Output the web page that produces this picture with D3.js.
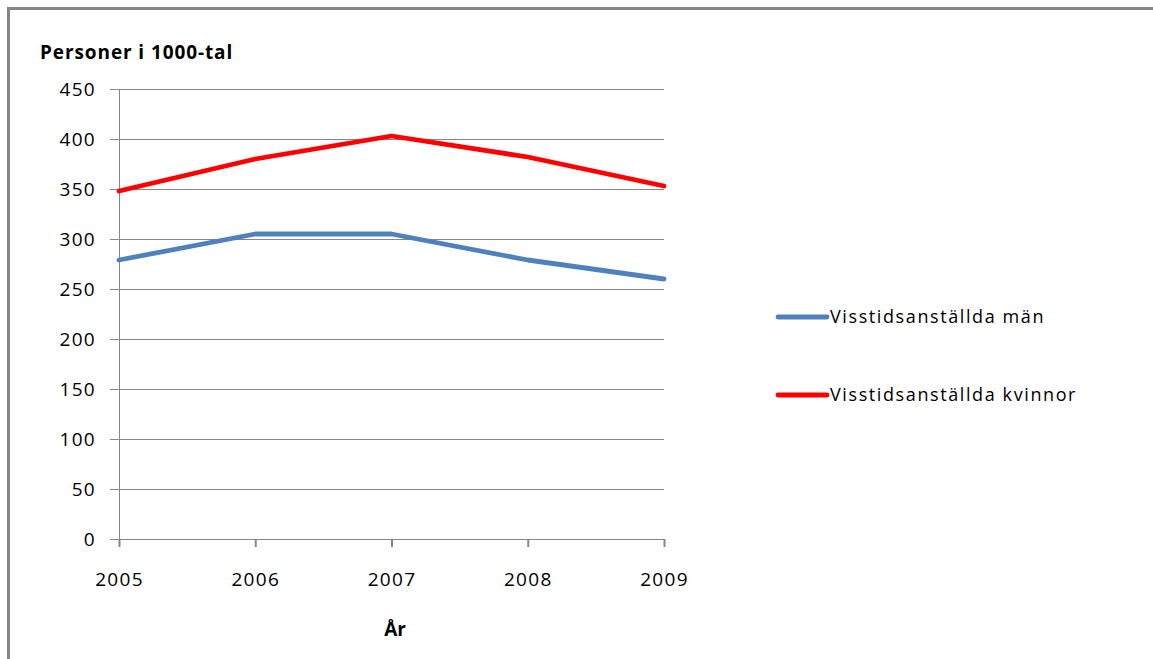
<!DOCTYPE html>
<html>
<head>
<meta charset="utf-8">
<script src="https://cdn.jsdelivr.net/npm/d3@7"></script>
<style>
  html, body { margin: 0; padding: 0; background: #fff; }
  svg { display: block; }
  text { font-family: "Open Sans", "Noto Sans", sans-serif; fill: #000; }
</style>
</head>
<body>
<svg id="chart" width="1153" height="659"></svg>
<script>
// Temporary employment by sex, thousands of persons
const years = ["2005", "2006", "2007", "2008", "2009"];
const men = [279, 305, 305, 279, 260];
const women = [348, 380, 403, 382, 353];
const seriesNames = ["Visstidsanställda män", "Visstidsanställda kvinnor"];
const seriesColors = ["#4f81bd", "#ff0000"];
const yTicks = [0, 50, 100, 150, 200, 250, 300, 350, 400, 450];

const svg = d3.select("#chart");
const W = 1153, H = 659;

// outer frame (top and left edges visible)
svg.append("path")
  .attr("d", `M8.5,${H} L8.5,8.5 L${W},8.5`)
  .attr("fill", "none")
  .attr("stroke", "#868686")
  .attr("stroke-width", 3);

const plot = { left: 119, right: 664, top: 89, bottom: 539 };

const x = d3.scalePoint().domain(years).range([plot.left, plot.right]);
const y = d3.scaleLinear().domain([0, 450]).range([plot.bottom, plot.top]);

const gridColor = "#868686";
const tickFont = "19px";
const tickSpacing = "1.3px";

// horizontal gridlines with left tick stubs
const yAxis = d3.axisLeft(y).tickValues(yTicks)
  .tickSize(-(plot.right - plot.left))
  .tickPadding(24);
const gy = svg.append("g")
  .attr("transform", `translate(${plot.left},0)`)
  .call(yAxis);
gy.select(".domain").remove();
gy.selectAll(".tick line")
  .attr("x1", -9)
  .attr("stroke", gridColor)
  .attr("stroke-width", 1)
  .attr("shape-rendering", "crispEdges");
gy.selectAll(".tick text")
  .style("font-size", tickFont)
  .style("letter-spacing", tickSpacing)
  .attr("x", -23)
  .attr("dy", "0.34em");

// vertical axis line
svg.append("line")
  .attr("x1", plot.left).attr("x2", plot.left)
  .attr("y1", plot.top).attr("y2", plot.bottom + 8)
  .attr("stroke", gridColor)
  .attr("shape-rendering", "crispEdges");

// category axis
const xAxis = d3.axisBottom(x).tickSize(8).tickPadding(26);
const gx = svg.append("g")
  .attr("transform", `translate(0,${plot.bottom})`)
  .call(xAxis);
gx.select(".domain").remove();
gx.selectAll(".tick line")
  .attr("stroke", gridColor)
  .attr("stroke-width", 2);
gx.selectAll(".tick text")
  .style("font-size", tickFont)
  .style("letter-spacing", tickSpacing);

// series lines
const line = d3.line()
  .x((d, i) => x(years[i]))
  .y(d => y(d));

[men, women].forEach((vals, i) => {
  svg.append("path")
    .datum(vals)
    .attr("fill", "none")
    .attr("stroke", seriesColors[i])
    .attr("stroke-width", 4.8)
    .attr("stroke-linejoin", "round")
    .attr("stroke-linecap", "round")
    .attr("d", line);
});

// titles
svg.append("text")
  .attr("x", 40).attr("y", 59)
  .style("font-size", "19px")
  .style("font-weight", "bold")
  .style("letter-spacing", "0.9px")
  .text("Personer i 1000-tal");

svg.append("text")
  .attr("x", 395).attr("y", 636)
  .attr("text-anchor", "middle")
  .style("font-size", "19px")
  .style("font-weight", "bold")
  .text("År");

// legend
const legendY = [317, 395];
seriesNames.forEach((name, i) => {
  const g = svg.append("g").attr("transform", `translate(0,${legendY[i]})`);
  g.append("line")
    .attr("x1", 778).attr("x2", 827)
    .attr("y1", 0).attr("y2", 0)
    .attr("stroke", seriesColors[i])
    .attr("stroke-width", 4.8)
    .attr("stroke-linecap", "round");
  g.append("text")
    .attr("x", 830).attr("y", 6)
    .style("font-size", "18px")
    .style("letter-spacing", "1.6px")
    .text(name);
});
</script>
</body>
</html>
